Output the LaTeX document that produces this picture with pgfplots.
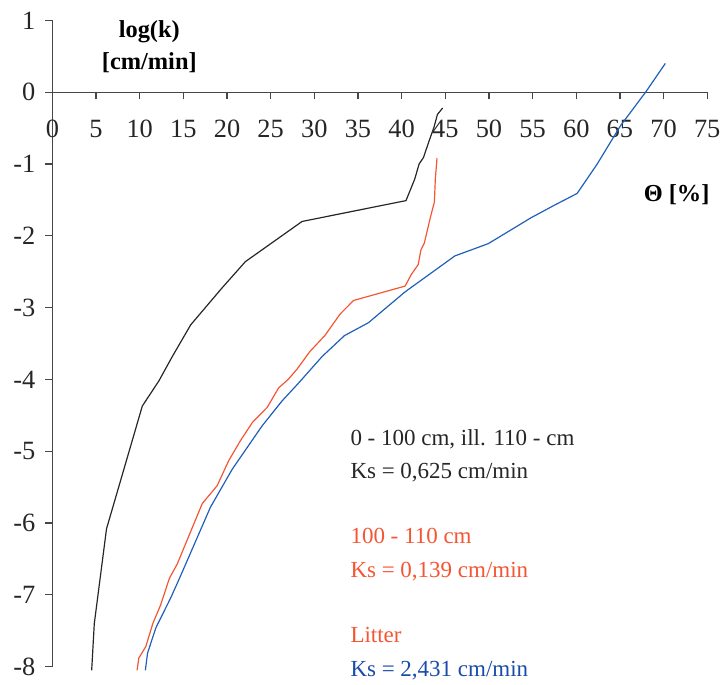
\documentclass[border=0pt]{standalone}
\usepackage{pgfplots}
\pgfplotsset{compat=1.18}
\usepackage{fontspec}
\setmainfont{Liberation Serif}
\definecolor{lred}{RGB}{245,85,50}
\definecolor{lblue}{RGB}{30,95,185}
\definecolor{tblue}{RGB}{25,75,170}
\definecolor{axgray}{RGB}{70,70,70}
\begin{document}
\begin{tikzpicture}
\begin{axis}[
  scale only axis,
  width=329.2bp, height=324.9bp,
  xmin=0, xmax=75, ymin=-8, ymax=1,
  axis lines=middle,
  axis line style={-, axgray, line width=0.6bp},
  every tick/.style={axgray, line width=0.6bp},
  tick align=outside,
  major tick length=3.6bp,
  hide obscured x ticks=false, hide obscured y ticks=false,
  xtick={0,5,...,75}, ytick={-8,-7,...,1},
  tick label style={font=\fontsize{13.3}{15}\selectfont, text=black!85},
  /pgf/number format/assume math mode=true,
  xticklabel style={yshift=-7bp},
  yticklabel style={xshift=-1.5bp},
  clip=false,
]
  \addplot[black!85, line width=0.6bp] coordinates {
    (4.5,-8.05) (4.8,-7.4) (6.2,-6.08) (10.3,-4.37) (12.2,-4.02) (13.74,-3.68)
    (15.84,-3.24) (19.4,-2.73) (22.1,-2.36) (28.6,-1.80) (40.5,-1.51) (41.5,-1.21)
    (42.0,-1.0) (42.5,-0.91) (43.2,-0.66) (43.7,-0.49) (44.1,-0.31) (44.7,-0.22)};
  \addplot[lred, line width=0.6bp] coordinates {
    (9.7,-8.05) (9.9,-7.88) (10.7,-7.72) (11.5,-7.4) (12.4,-7.14) (13.4,-6.77)
    (14.3,-6.57) (17.16,-5.73) (18.87,-5.48) (20.2,-5.13) (21.5,-4.86) (22.9,-4.60)
    (24.6,-4.39) (25.9,-4.12) (27.0,-4.0) (28.0,-3.86) (29.5,-3.61) (31.2,-3.39)
    (32.95,-3.09) (34.5,-2.90) (40.4,-2.70) (41.1,-2.54) (41.9,-2.40) (42.2,-2.20)
    (42.6,-2.10) (43.3,-1.74) (43.75,-1.53) (43.86,-1.21) (44.05,-0.92)};
  \addplot[lblue, line width=0.6bp] coordinates {
    (10.65,-8.05) (10.9,-7.81) (11.85,-7.46) (13.6,-7.03) (14.7,-6.73) (18.1,-5.78)
    (20.6,-5.25) (24.0,-4.65) (26.3,-4.30) (28.2,-4.05) (30.9,-3.68) (33.45,-3.39)
    (36.2,-3.21) (40.4,-2.78) (46.1,-2.28) (49.9,-2.11) (51.0,-2.03) (54.8,-1.75)
    (57.4,-1.58) (60.1,-1.41) (62.4,-1.0) (65.05,-0.47) (68.0,0.01) (70.2,0.40)};
  % labels
  \node[font=\bfseries\fontsize{12.3}{14}\selectfont] at (axis cs:11.1,0.84) {log(k)};
  \node[font=\bfseries\fontsize{12.3}{14}\selectfont] at (axis cs:11.1,0.41) {[cm/min]};
  \node[font=\bfseries\fontsize{12.3}{14}\selectfont] at (axis cs:71.5,-1.43) {Θ [\%]};
  \begin{scope}[every node/.style={anchor=base west, inner sep=0pt, font=\fontsize{11.6}{13}\selectfont}]
    \node[text=black!85] at (axis cs:34.1,-4.92) {0 - 100 cm, ill. 110 - cm};
    \node[text=black!85] at (axis cs:34.1,-5.38) {Ks = 0,625 cm/min};
    \node[text=lred] at (axis cs:34.1,-6.29) {100 - 110 cm};
    \node[text=lred] at (axis cs:34.1,-6.76) {Ks = 0,139 cm/min};
    \node[text=lred] at (axis cs:34.1,-7.67) {Litter};
    \node[text=tblue] at (axis cs:34.1,-8.13) {Ks = 2,431 cm/min};
  \end{scope}
  \path (axis cs:-6.0,1.284) rectangle (axis cs:76.9,-8.245);
\end{axis}
\end{tikzpicture}
\end{document}
